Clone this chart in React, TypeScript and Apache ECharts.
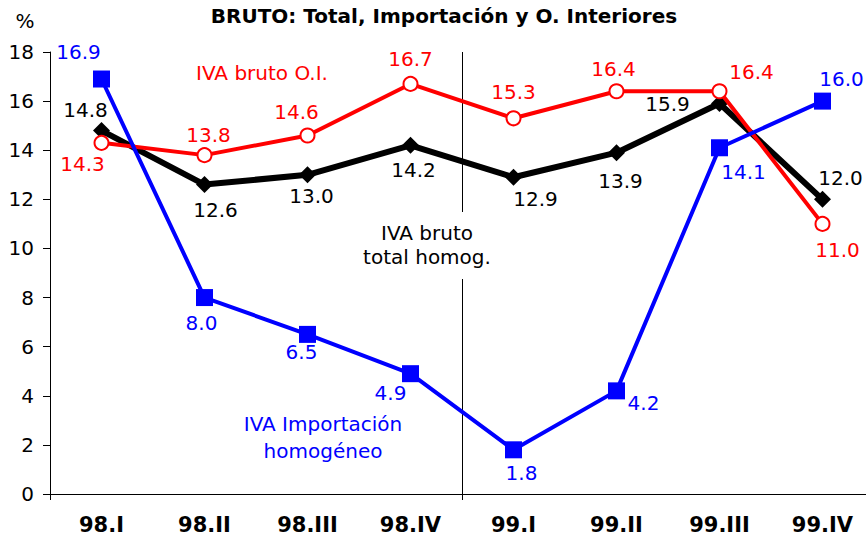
import React, { useEffect, useRef } from "react";
import * as echarts from "echarts";

const categories = ["98.I", "98.II", "98.III", "98.IV", "99.I", "99.II", "99.III", "99.IV"];
const totalHomog = [14.8, 12.6, 13.0, 14.2, 12.9, 13.9, 15.9, 12.0];
const brutoOI = [14.3, 13.8, 14.6, 16.7, 15.3, 16.4, 16.4, 11.0];
const importacion = [16.9, 8.0, 6.5, 4.9, 1.8, 4.2, 14.1, 16.0];

// label offsets (px) relative to each point
const totalOffsets = [[-16, -21], [11, 25], [4, 21], [3, 25], [22, 22], [4, 28], [-52, 0], [18, -21]];
const oiOffsets = [[-19, 21], [4, -20], [-11, -23], [0, -25], [0, -26], [-3, -22], [32, -19], [15, 26]];
const impOffsets = [[-23, -27], [-3, 25], [-6, 18], [-20, 19], [8, 23], [27, 12], [24, 24], [19, -22]];

const FONT = "'DejaVu Sans', Verdana, sans-serif";
const FS = 20;

function withLabels(values: number[], offsets: number[][]) {
  return values.map((v, i) => ({ value: v, label: { offset: offsets[i] } }));
}

export default function App() {
  const ref = useRef<HTMLDivElement>(null);
  useEffect(() => {
    if (!ref.current) return;
    const chart = echarts.init(ref.current, undefined, { renderer: "svg" });
    const labelBase = (color: string) => ({
      show: true,
      position: "inside",
      color,
      fontSize: FS,
      fontFamily: FONT,
      formatter: (p: any) => Number(p.value).toFixed(1),
    });
    const boundaryEvery4 = (index: number) => index % 4 === 0;
    const baseGraphic: any[] = [
      {
        id: "pct",
        type: "text",
        x: 25,
        y: 21,
        style: { text: "%", fontSize: FS, fontFamily: FONT, fill: "#000", align: "center", verticalAlign: "middle" },
      },
      {
        id: "oiText",
        type: "text",
        x: 262,
        y: 73,
        style: {
          text: "IVA bruto O.I.",
          fontSize: FS,
          fontFamily: FONT,
          fill: "#ff0000",
          align: "center",
          verticalAlign: "middle",
        },
      },
      {
        id: "totalText",
        type: "text",
        x: 427,
        y: 245,
        z: 11,
        style: {
          text: "IVA bruto\ntotal homog.",
          fontSize: FS,
          fontFamily: FONT,
          fill: "#000",
          align: "center",
          verticalAlign: "middle",
          lineHeight: 24,
        },
      },
      {
        id: "impText",
        type: "text",
        x: 323,
        y: 437,
        style: {
          text: "IVA Importación\nhomogéneo",
          fontSize: FS,
          fontFamily: FONT,
          fill: "#0000ff",
          align: "center",
          verticalAlign: "middle",
          lineHeight: 27,
        },
      },
    ];
    chart.setOption({
      animation: false,
      backgroundColor: "#ffffff",
      title: {
        text: "BRUTO: Total, Importación y O. Interiores",
        left: 439,
        top: 1,
        textAlign: "center",
        textStyle: { fontSize: 20, fontWeight: "bold", fontFamily: FONT, color: "#000" },
      },
      grid: { left: 50, top: 52, width: 824, height: 442, containLabel: false, outerBoundsMode: "none" },
      xAxis: {
        type: "category",
        data: categories,
        boundaryGap: true,
        axisLine: { lineStyle: { color: "#000", width: 1 } },
        axisTick: { show: true, interval: boundaryEvery4, length: 6, lineStyle: { color: "#000" } },
        splitLine: { show: false },
        axisLabel: {
          interval: 0,
          margin: 20,
          fontSize: 21,
          fontWeight: "bold",
          fontFamily: FONT,
          color: "#000",
        },
      },
      yAxis: {
        type: "value",
        min: 0,
        max: 18,
        interval: 2,
        axisLine: { show: true, lineStyle: { color: "#000", width: 1 } },
        axisTick: { show: true, length: 7, lineStyle: { color: "#000" } },
        splitLine: { show: false },
        axisLabel: { fontSize: FS, fontFamily: FONT, color: "#000", margin: 16 },
      },
      graphic: baseGraphic,
      series: [
        {
          name: "IVA bruto total homog.",
          type: "line",
          data: withLabels(totalHomog, totalOffsets),
          symbol: "diamond",
          symbolSize: 17,
          itemStyle: { color: "#000" },
          lineStyle: { color: "#000", width: 6 },
          label: labelBase("#000"),
          z: 2,
        },
        {
          name: "IVA bruto O.I.",
          type: "line",
          data: withLabels(brutoOI, oiOffsets),
          symbol: "circle",
          symbolSize: 14,
          showAllSymbol: true,
          itemStyle: { color: "#ffffff", borderColor: "#ff0000", borderWidth: 2 },
          lineStyle: { color: "#ff0000", width: 4 },
          label: labelBase("#ff0000"),
          z: 3,
        },
        {
          name: "IVA Importación homogéneo",
          type: "line",
          data: withLabels(importacion, impOffsets),
          symbol: "rect",
          symbolSize: 17,
          itemStyle: { color: "#0000ff" },
          lineStyle: { color: "#0000ff", width: 4 },
          label: labelBase("#0000ff"),
          z: 4,
        },
      ],
    });
    // vertical divider between 98.IV and 99.I, positioned through the axis scales
    const a = chart.convertToPixel({ gridIndex: 0 }, [categories[3], 18]) as number[];
    const b = chart.convertToPixel({ gridIndex: 0 }, [categories[4], 0]) as number[];
    const xMid = Math.round((a[0] + b[0]) / 2) + 0.5;
    const yTop = a[1];
    const yBottom = b[1] + 6;
    chart.setOption({
      graphic: [
        ...baseGraphic,
        {
          id: "divTop",
          type: "line",
          shape: { x1: xMid, y1: yTop, x2: xMid, y2: 212 },
          style: { stroke: "#000", lineWidth: 1 },
          z: 1,
        },
        {
          id: "divBottom",
          type: "line",
          shape: { x1: xMid, y1: 279, x2: xMid, y2: yBottom },
          style: { stroke: "#000", lineWidth: 1 },
          z: 1,
        },
      ],
    });
    return () => chart.dispose();
  }, []);
  return <div ref={ref} style={{ position: "fixed", left: 0, top: 0, width: 866, height: 536 }} />;
}
